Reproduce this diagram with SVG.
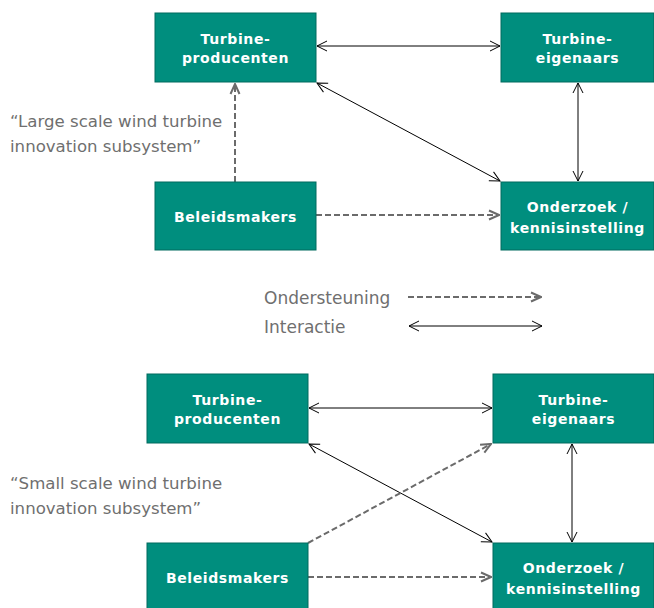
<svg xmlns="http://www.w3.org/2000/svg" width="654" height="608" viewBox="0 0 654 608">
<style>
.node rect{fill:#008E7E;stroke:#006A5E;stroke-width:1}
.node text{fill:#fff;font-family:"DejaVu Sans",Verdana,sans-serif;font-weight:bold;font-size:14px;letter-spacing:0.6px;text-anchor:middle}
.lbl{fill:#6f6f6f;font-family:"DejaVu Sans",Tahoma,sans-serif;font-size:17px}
.sub{font-size:16.6px}
.solid{stroke:#000;stroke-width:1;fill:none;marker-start:url(#ah);marker-end:url(#ah)}
.dash{stroke:#6b6b6b;stroke-width:2;stroke-dasharray:6 3;fill:none;marker-end:url(#ahg)}
</style>
<defs>
<marker id="ah" viewBox="0 0 12 12" refX="11" refY="6" markerWidth="12" markerHeight="12" markerUnits="userSpaceOnUse" orient="auto-start-reverse">
<path d="M1,1 L11,6 L1,11" fill="none" stroke="#000" stroke-width="1"/>
</marker>
<marker id="ahg" viewBox="0 0 12 12" refX="11" refY="6" markerWidth="12" markerHeight="12" markerUnits="userSpaceOnUse" orient="auto">
<path d="M1,1.5 L11,6 L1,10.5" fill="none" stroke="#6b6b6b" stroke-width="2"/>
</marker>
</defs>
<g id="connectors">
<line class="solid" x1="317" y1="46" x2="500" y2="46"/>
<line class="solid" x1="317" y1="83" x2="500" y2="181"/>
<line class="solid" x1="578" y1="83" x2="578" y2="181"/>
<line class="dash" x1="235" y1="182" x2="235" y2="84"/>
<line class="dash" x1="316" y1="215" x2="499" y2="215"/>
<line class="dash" x1="408" y1="297" x2="541" y2="297"/>
<line class="solid" x1="409" y1="326" x2="542" y2="326"/>
<line class="solid" x1="309" y1="408" x2="492" y2="408"/>
<line class="solid" x1="309" y1="444" x2="492" y2="542"/>
<line class="solid" x1="572" y1="444" x2="572" y2="542"/>
<line class="dash" x1="308" y1="543" x2="491" y2="444"/>
<line class="dash" x1="308" y1="577" x2="491" y2="577"/>
</g>
<g id="n1" class="node"><rect x="155" y="13" width="161" height="69"/><text x="235.5" y="44">Turbine-</text><text x="235.5" y="63">producenten</text></g>
<g id="n2" class="node"><rect x="501" y="13" width="153" height="69"/><text x="577.5" y="44">Turbine-</text><text x="577.5" y="63">eigenaars</text></g>
<g id="n3" class="node"><rect x="155" y="182" width="161" height="68"/><text x="235.5" y="222">Beleidsmakers</text></g>
<g id="n4" class="node"><rect x="501" y="182" width="153" height="68"/><text x="577.5" y="212">Onderzoek /</text><text x="577.5" y="233">kennisinstelling</text></g>
<g id="n5" class="node"><rect x="147" y="374" width="161" height="69"/><text x="227.5" y="405">Turbine-</text><text x="227.5" y="424">producenten</text></g>
<g id="n6" class="node"><rect x="493" y="374" width="161" height="69"/><text x="573.5" y="405">Turbine-</text><text x="573.5" y="424">eigenaars</text></g>
<g id="n7" class="node"><rect x="147" y="543" width="161" height="68"/><text x="227.5" y="583">Beleidsmakers</text></g>
<g id="n8" class="node"><rect x="493" y="543" width="161" height="68"/><text x="573.5" y="573">Onderzoek /</text><text x="573.5" y="594">kennisinstelling</text></g>
<g id="labels">
<text class="lbl sub" x="10" y="127">“Large scale wind turbine</text>
<text class="lbl sub" x="10" y="152">innovation subsystem”</text>
<text class="lbl" x="264" y="304">Ondersteuning</text>
<text class="lbl" x="264" y="333">Interactie</text>
<text class="lbl sub" x="10" y="489">“Small scale wind turbine</text>
<text class="lbl sub" x="10" y="514">innovation subsystem”</text>
</g>
</svg>
